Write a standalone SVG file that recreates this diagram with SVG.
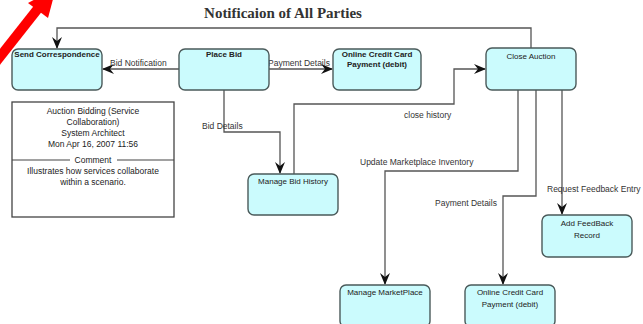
<svg xmlns="http://www.w3.org/2000/svg" width="643" height="324" viewBox="0 0 643 324">
<defs>
<style>
.node rect{fill:#cbfbfd;stroke:#4a5a5a;stroke-width:1.4}
.nt{font-family:"Liberation Sans",Arial,sans-serif;font-size:8px;fill:#222;text-anchor:middle}
.lbl{font-family:"Liberation Sans",Arial,sans-serif;font-size:8.5px;fill:#333}
.conn path{fill:none;stroke:#555;stroke-width:1.3}
.ct{font-family:"Liberation Sans",Arial,sans-serif;font-size:8.5px;fill:#222;text-anchor:middle}
</style>
<marker id="ah" viewBox="0 0 12 10" refX="11" refY="5" markerWidth="12" markerHeight="10" markerUnits="userSpaceOnUse" orient="auto">
<path d="M0,0 L12,5 L0,10 L4,5 Z" fill="#111"/>
</marker>
</defs>
<rect width="643" height="324" fill="#fff"/>
<text x="283" y="18" font-family="Liberation Serif,Times New Roman,serif" font-size="15" font-weight="bold" fill="#333" text-anchor="middle">Notificaion of All Parties</text>
<g id="connectors" class="conn">
<path d="M531,48 V28 H57 V48" marker-end="url(#ah)"/>
<path d="M179,69 H103" marker-end="url(#ah)"/>
<path d="M269,69 H332" marker-end="url(#ah)"/>
<path d="M224,90 V132 H280 V173" marker-end="url(#ah)"/>
<path d="M294,174 V104 H454 V69 H485" marker-end="url(#ah)"/>
<path d="M518,90 V171 H385 V284" marker-end="url(#ah)"/>
<path d="M536,90 V196 H503 V284" marker-end="url(#ah)"/>
<path d="M562,90 V214" marker-end="url(#ah)"/>
<text class="lbl" x="110" y="66">Bid Notification</text>
<text class="lbl" x="268" y="66">Payment Details</text>
<text class="lbl" x="202" y="129">Bid Details</text>
<text class="lbl" x="404" y="118">close history</text>
<text class="lbl" x="360" y="165">Update Marketplace Inventory</text>
<text class="lbl" x="435" y="206">Payment Details</text>
<text class="lbl" x="547" y="192">Request Feedback Entry</text>
</g>
<g id="send-correspondence" class="node"><rect x="12" y="49" width="90" height="41" rx="6"/><text class="nt" x="57" y="57" font-weight="bold" font-size="7.5">Send Correspondence</text></g>
<g id="place-bid" class="node"><rect x="179" y="49" width="90" height="41" rx="6"/><text class="nt" x="224" y="57" font-weight="bold" font-size="7.5">Place Bid</text></g>
<g id="online-cc-top" class="node"><rect x="333" y="49" width="88" height="41" rx="6"/><text class="nt" x="377" y="57" font-weight="bold" font-size="7.5">Online Credit Card</text><text class="nt" x="377" y="67" font-weight="bold" font-size="7.5">Payment (debit)</text></g>
<g id="close-auction" class="node"><rect x="486" y="48" width="90" height="42" rx="6"/><text class="nt" x="531" y="59" font-size="9">Close Auction</text></g>
<g id="manage-bid-history" class="node"><rect x="248" y="174" width="90" height="41" rx="6"/><text class="nt" x="293" y="184" font-size="8.5">Manage Bid History</text></g>
<g id="add-feedback" class="node"><rect x="542" y="215" width="90" height="42" rx="6"/><text class="nt" x="587" y="226" font-size="8.5">Add FeedBack</text><text class="nt" x="587" y="238" font-size="8.5">Record</text></g>
<g id="manage-marketplace" class="node"><rect x="340" y="285" width="90" height="42" rx="6"/><text class="nt" x="385" y="295" font-size="8.5">Manage MarketPlace</text></g>
<g id="online-cc-bottom" class="node"><rect x="465" y="285" width="90" height="42" rx="6"/><text class="nt" x="510" y="295" font-size="8.5">Online Credit Card</text><text class="nt" x="510" y="307" font-size="8.5">Payment (debit)</text></g>
<g id="comment-box">
<rect x="12" y="102" width="162" height="115" fill="#fff" stroke="#444" stroke-width="1.3"/>
<text class="ct" x="93" y="114">Auction Bidding (Service</text>
<text class="ct" x="93" y="125">Collaboration)</text>
<text class="ct" x="93" y="136">System Architect</text>
<text class="ct" x="93" y="147">Mon Apr 16, 2007  11:56</text>
<line x1="12" y1="160" x2="70" y2="160" stroke="#444" stroke-width="1.2"/>
<line x1="117" y1="160" x2="174" y2="160" stroke="#444" stroke-width="1.2"/>
<text class="ct" x="93" y="163">Comment</text>
<text class="ct" x="93" y="174">Illustrates how services collaborate</text>
<text class="ct" x="93" y="185">within a scenario.</text>
</g>
<g id="red-arrow">
<path d="M-12,72 L40,6" stroke="#f00" stroke-width="10" fill="none"/>
<polygon points="28,3 48,18 56,-12" fill="#f00"/>
</g>
</svg>
